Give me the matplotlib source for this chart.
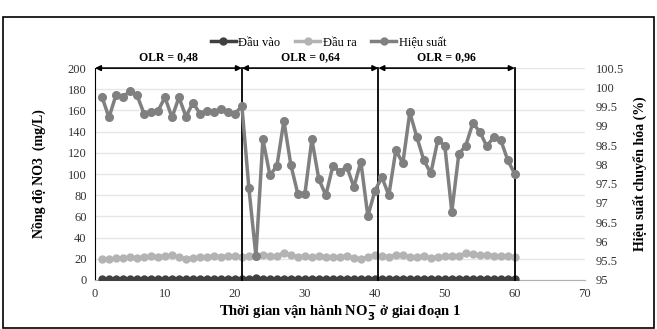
import matplotlib.pyplot as plt
from matplotlib.lines import Line2D
from matplotlib.patches import Rectangle

plt.rcParams['font.family'] = ['Liberation Serif', 'DejaVu Serif']

days = list(range(1, 61))
dau_vao = [1.0, 0.8, 1.2, 1.0, 0.9, 1.1, 1.0, 0.8, 1.2, 1.0,
           0.9, 1.1, 1.0, 0.8, 1.2, 1.0, 0.9, 1.1, 1.0, 0.9,
           1.0, 1.2, 1.5, 1.1, 0.9, 1.0, 1.1, 0.8, 1.0, 1.2,
           0.9, 1.0, 1.1, 0.9, 1.0, 1.2, 0.8, 1.0, 1.1, 0.9,
           1.0, 1.1, 0.9, 1.0, 1.2, 0.8, 1.0, 1.1, 0.9, 1.0,
           1.1, 0.9, 1.0, 1.2, 0.8, 1.0, 1.1, 0.9, 1.0, 1.0]
dau_ra = [20, 19.5, 20.5, 21, 21.5, 21, 22, 22.5, 22, 23,
          23.5, 21.5, 20, 21, 21.5, 22, 22.5, 22, 23, 22.5,
          22, 22.5, 23, 24, 22.5, 23, 25.5, 23.5, 22, 22.5,
          21.5, 23, 22, 21.5, 22, 22.5, 20.5, 20, 21.5, 23.5,
          22.5, 22, 23.5, 24, 21.5, 21.5, 22.5, 21, 21.5, 22.5,
          23, 23, 25, 24.5, 23.5, 24, 23, 22.5, 22.5, 22]
hieu_suat = [99.75, 99.22, 99.80, 99.75, 99.91, 99.80, 99.32, 99.37, 99.39, 99.74,
             99.22, 99.74, 99.24, 99.60, 99.32, 99.39, 99.37, 99.43, 99.37, 99.32,
             99.51, 97.38, 95.62, 98.65, 97.72, 97.96, 99.13, 97.98, 97.23, 97.23,
             98.65, 97.61, 97.20, 97.96, 97.81, 97.94, 97.41, 98.07, 96.66, 97.31,
             97.67, 97.20, 98.37, 98.03, 99.35, 98.71, 98.11, 97.77, 98.63, 98.49,
             96.77, 98.27, 98.49, 99.07, 98.85, 98.47, 98.71, 98.63, 98.11, 97.75]

phase_edges = [0, 21, 40.5, 60]
phase_labels = ['OLR = 0,48', 'OLR = 0,64', 'OLR = 0,96']

c_in, c_out, c_eff = '#404040', '#b3b3b3', '#808080'

fig = plt.figure(figsize=(6.57, 3.29), dpi=100)
fig.patches.append(Rectangle((0.005, 0.003), 0.99, 0.945, transform=fig.transFigure,
                             fill=False, edgecolor='black', linewidth=1.2))
ax = fig.add_axes([0.1446, 0.149, 0.7454, 0.644])
ax2 = ax.twinx()

ax.plot(days, dau_ra, color=c_out, lw=2.5, marker='o', ms=5, zorder=3)
ax.plot(days, dau_vao, color=c_in, lw=2.5, marker='o', ms=5, zorder=3)
ax2.plot(days, hieu_suat, color=c_eff, lw=2.5, marker='o', ms=5.5, zorder=3)

ax.set_xlim(0, 70)
ax.set_ylim(0, 200)
ax.set_xticks(range(0, 71, 10))
ax.set_yticks(range(0, 201, 20))
ax2.set_ylim(95, 100.5)
ax2.set_yticks([95 + 0.5 * i for i in range(12)])
ax2.set_yticklabels(['95', '95.5', '96', '96.5', '97', '97.5', '98', '98.5',
                     '99', '99.5', '100', '100.5'])

ax.grid(axis='y', color='#e6e6e6', lw=1)
ax.set_axisbelow(True)
for s in ['top', 'right']:
    ax.spines[s].set_visible(False)
for s in ax2.spines.values():
    s.set_visible(False)
ax.spines['left'].set_color('black')
ax.spines['bottom'].set_color('#b0b0b0')
ax.tick_params(length=0, labelsize=9, colors='#333333', pad=6)
ax2.tick_params(length=0, labelsize=9, colors='#333333', pad=8)

for x in phase_edges[1:]:
    ax.plot([x, x], [0, 200], color='black', lw=1.3, zorder=4, clip_on=False)
for i, lab in enumerate(phase_labels):
    a, b = phase_edges[i], phase_edges[i + 1]
    ax.annotate('', xy=(a, 200), xytext=(b, 200), annotation_clip=False,
                arrowprops=dict(arrowstyle='<|-|>', color='black', lw=1.2,
                                shrinkA=0, shrinkB=0, mutation_scale=8))
    ax.text((a + b) / 2, 205, lab, ha='center', va='bottom', fontsize=8.5,
            fontweight='bold')

ax.set_ylabel('Nồng độ NO3  (mg/L)', fontsize=10, fontweight='bold', labelpad=16)
ax2.set_ylabel('Hiệu suất chuyển hóa (%)', fontsize=10, fontweight='bold', labelpad=6)
ax.set_xlabel('Thời gian vận hành NO$_\\mathbf{3}^{\\mathbf{-}}$ ở giai đoạn 1',
              fontsize=10.5, fontweight='bold', labelpad=2)

handles = [Line2D([], [], color=c_in, lw=2.5, marker='o', ms=5),
           Line2D([], [], color=c_out, lw=2.5, marker='o', ms=5),
           Line2D([], [], color=c_eff, lw=2.5, marker='o', ms=5)]
fig.legend(handles, ['Đầu vào', 'Đầu ra', 'Hiệu suất'], loc='center',
           bbox_to_anchor=(0.5, 0.87), ncol=3, frameon=False, fontsize=9,
           handlelength=2, handletextpad=0.2, columnspacing=1.2)

fig.savefig('out.png', dpi=100)
